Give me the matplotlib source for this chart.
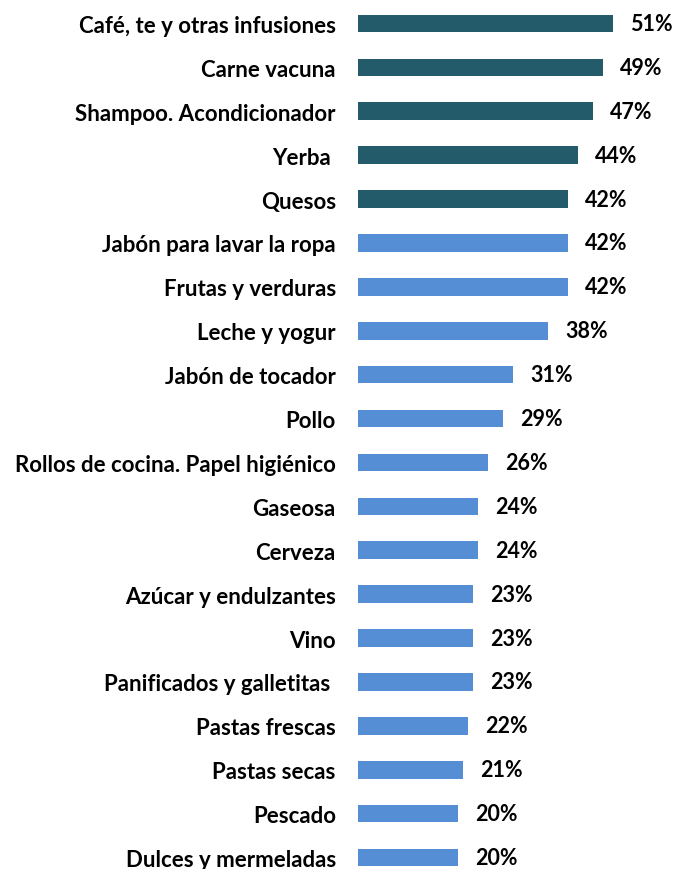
import matplotlib
matplotlib.use("Agg")
import matplotlib.pyplot as plt

categories = [
    "Café, te y otras infusiones",
    "Carne vacuna",
    "Shampoo. Acondicionador",
    "Yerba ",
    "Quesos",
    "Jabón para lavar la ropa",
    "Frutas y verduras",
    "Leche y yogur",
    "Jabón de tocador",
    "Pollo",
    "Rollos de cocina. Papel higiénico",
    "Gaseosa",
    "Cerveza",
    "Azúcar y endulzantes",
    "Vino",
    "Panificados y galletitas ",
    "Pastas frescas",
    "Pastas secas",
    "Pescado",
    "Dulces y mermeladas",
]
values = [51, 49, 47, 44, 42, 42, 42, 38, 31, 29, 26, 24, 24, 23, 23, 23, 22, 21, 20, 20]
highlighted = 5  # first N categories drawn in the dark colour

DARK = "#235B6A"
LIGHT = "#558ED5"

plt.rcParams["font.family"] = ["Lato", "DejaVu Sans"]

W, H = 675, 870
fig = plt.figure(figsize=(W / 100, H / 100), dpi=100)
left_px = 358
ax = fig.add_axes([left_px / W, 0, (W - left_px) / W, 1])

colors = [DARK if i < highlighted else LIGHT for i in range(len(values))]
ypos = list(range(len(values)))
ax.barh(ypos, values, height=0.4, color=colors, edgecolor="none")

ax.set_xlim(0, (W - left_px) / 5.0)
ax.set_ylim(19.26, -0.556)

for y, v in zip(ypos, values):
    ax.annotate(f"{v}%", xy=(v, y), xytext=(12.5, 0), textcoords="offset points",
                ha="left", va="center", fontsize=15.5, fontweight="bold", color="black")

ax.set_yticks(ypos)
ax.set_yticklabels(categories, fontsize=16, fontweight="bold")
ax.tick_params(axis="y", length=0, pad=16)
ax.set_xticks([])
for s in ax.spines.values():
    s.set_visible(False)

fig.savefig("out.png", dpi=100)
